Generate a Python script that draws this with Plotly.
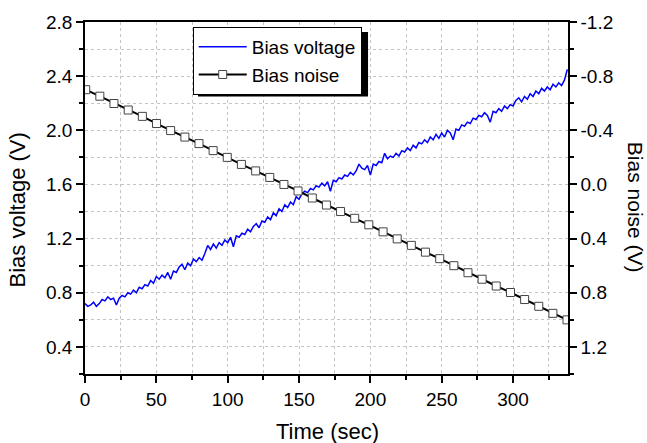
import plotly.graph_objects as go

time_v = [0, 2, 4, 6, 8, 10, 12, 14, 16, 18,
          20, 22, 24, 26, 28, 30, 32, 34, 36, 38,
          40, 42, 44, 46, 48, 50, 52, 54, 56, 58,
          60, 62, 64, 66, 68, 70, 72, 74, 76, 78,
          80, 82, 84, 86, 88, 90, 92, 94, 96, 98,
          100, 102, 104, 106, 108, 110, 112, 114, 116, 118,
          120, 122, 124, 126, 128, 130, 132, 134, 136, 138,
          140, 142, 144, 146, 148, 150, 152, 154, 156, 158,
          160, 162, 164, 166, 168, 170, 172, 174, 176, 178,
          180, 182, 184, 186, 188, 190, 192, 194, 196, 198,
          200, 202, 204, 206, 208, 210, 212, 214, 216, 218,
          220, 222, 224, 226, 228, 230, 232, 234, 236, 238,
          240, 242, 244, 246, 248, 250, 252, 254, 256, 258,
          260, 262, 264, 266, 268, 270, 272, 274, 276, 278,
          280, 282, 284, 286, 288, 290, 292, 294, 296, 298,
          300, 302, 304, 306, 308, 310, 312, 314, 316, 318,
          320, 322, 324, 326, 328, 330, 332, 334, 336, 338]
bias_voltage = [0.72, 0.70, 0.71, 0.73, 0.70, 0.72, 0.75, 0.74, 0.77, 0.75,
                0.76, 0.71, 0.76, 0.78, 0.77, 0.80, 0.79, 0.82, 0.80, 0.84,
                0.83, 0.86, 0.85, 0.89, 0.87, 0.92, 0.90, 0.93, 0.91, 0.95,
                0.90, 0.96, 0.95, 0.99, 1.01, 0.97, 1.02, 1.00, 1.05, 1.03,
                1.06, 1.04, 1.09, 1.15, 1.12, 1.16, 1.13, 1.17, 1.15, 1.19,
                1.17, 1.21, 1.14, 1.22, 1.21, 1.24, 1.23, 1.27, 1.25, 1.29,
                1.31, 1.28, 1.33, 1.32, 1.36, 1.34, 1.39, 1.37, 1.42, 1.40,
                1.45, 1.43, 1.47, 1.45, 1.51, 1.49, 1.53, 1.55, 1.54, 1.57,
                1.56, 1.59, 1.58, 1.61, 1.59, 1.62, 1.55, 1.63, 1.62, 1.65,
                1.64, 1.67, 1.66, 1.69, 1.67, 1.70, 1.75, 1.72, 1.71, 1.74,
                1.67, 1.75, 1.74, 1.77, 1.76, 1.83, 1.79, 1.81, 1.80, 1.83,
                1.81, 1.85, 1.84, 1.87, 1.85, 1.89, 1.87, 1.91, 1.90, 1.93,
                1.91, 1.95, 1.93, 1.97, 1.94, 1.98, 1.95, 2.00, 1.98, 1.93,
                2.01, 2.00, 2.04, 2.03, 2.06, 2.05, 2.09, 2.08, 2.11, 2.10,
                2.13, 2.11, 2.06, 2.14, 2.13, 2.16, 2.14, 2.18, 2.16, 2.19,
                2.18, 2.22, 2.24, 2.21, 2.25, 2.23, 2.27, 2.25, 2.29, 2.27,
                2.31, 2.29, 2.32, 2.30, 2.34, 2.32, 2.35, 2.33, 2.37, 2.45]

# Bias noise (right axis, reversed)
time_n = [0.5, 10.4, 20.3, 30.3, 40.2, 50.1, 60.0, 70.0, 79.9, 89.8,
          99.7, 109.6, 119.6, 129.5, 139.4, 149.3, 159.3, 169.2, 179.1, 189.0,
          198.9, 208.9, 218.8, 228.7, 238.6, 248.6, 258.5, 268.4, 278.3, 288.2,
          298.2, 308.1, 318.0, 327.9, 337.8]
bias_noise = [-0.70, -0.652, -0.598, -0.55, -0.503, -0.45, -0.398, -0.35, -0.302, -0.25,
              -0.20, -0.148, -0.10, -0.052, 0.0, 0.048, 0.10, 0.152, 0.20, 0.25,
              0.298, 0.35, 0.402, 0.45, 0.50, 0.548, 0.60, 0.652, 0.70, 0.75,
              0.798, 0.85, 0.90, 0.952, 1.00]

x_ticks = [0, 50, 100, 150, 200, 250, 300]
x_labels = ["0", "50", "100", "150", "200", "250", "300"]
yl_ticks = [0.4, 0.8, 1.2, 1.6, 2.0, 2.4, 2.8]
yl_labels = ["0.4", "0.8", "1.2", "1.6", "2.0", "2.4", "2.8"]
yr_ticks = [-1.2, -0.8, -0.4, 0.0, 0.4, 0.8, 1.2]
yr_labels = ["-1.2", "-0.8", "-0.4", "0.0", "0.4", "0.8", "1.2"]

FONT = "Liberation Sans, Arial, sans-serif"
GRID = "#c4c4c4"

fig = go.Figure()
fig.add_trace(go.Scatter(x=time_v, y=bias_voltage, mode="lines", name="Bias voltage",
                         line=dict(color="#0000ff", width=1.5)))
fig.add_trace(go.Scatter(x=time_n, y=bias_noise, mode="lines+markers", name="Bias noise",
                         yaxis="y2", line=dict(color="black", width=2),
                         marker=dict(symbol="square", size=8, color="white",
                                     line=dict(color="#444444", width=1))))

fig.update_layout(
    width=647, height=443,
    margin=dict(l=85, r=79, t=19, b=69),
    plot_bgcolor="white", paper_bgcolor="white",
    font=dict(family=FONT, size=19, color="black"),
    xaxis=dict(range=[0, 338.5], tickmode="array", tickvals=x_ticks, ticktext=x_labels,
               ticks="outside", ticklen=7, tickwidth=1.5, tickcolor="black",
               showline=True, linecolor="black", linewidth=1.5, mirror=True,
               showgrid=True, gridcolor=GRID, griddash="dot", gridwidth=1, zeroline=False,
               minor=dict(tick0=0, dtick=25, ticks="outside", ticklen=4, tickcolor="black",
                          showgrid=True, gridcolor=GRID, griddash="dot")),
    xaxis2=dict(range=[0, 338.5], overlaying="x", side="top", anchor="y",
                tick0=0, dtick=25, ticks="inside", ticklen=5, tickcolor="black",
                showticklabels=False, showgrid=False, showline=False, zeroline=False),
    yaxis=dict(range=[0.2, 2.8], tickmode="array", tickvals=yl_ticks, ticktext=yl_labels,
               ticks="outside", ticklen=7, tickwidth=1.5, tickcolor="black",
               showline=True, linecolor="black", linewidth=1.5,
               showgrid=True, gridcolor=GRID, griddash="dot", gridwidth=1, zeroline=False,
               minor=dict(tick0=0, dtick=0.2, ticks="outside", ticklen=4, tickcolor="black",
                          showgrid=True, gridcolor=GRID, griddash="dot")),
    yaxis2=dict(range=[1.4, -1.2], overlaying="y", side="right", anchor="x",
                tickmode="array", tickvals=yr_ticks, ticktext=yr_labels,
                ticks="outside", ticklen=7, tickwidth=1.5, tickcolor="black",
                showline=True, linecolor="black", linewidth=1.5,
                showgrid=False, zeroline=False,
                minor=dict(tick0=0, dtick=0.2, ticks="outside", ticklen=4, tickcolor="black")),
    showlegend=True,
    legend=dict(x=0.223, y=0.986, xanchor="left", yanchor="top",
                bgcolor="white", bordercolor="black", borderwidth=1,
                font=dict(family=FONT, size=19), itemwidth=48, tracegroupgap=0),
    # drop shadow behind the legend box
    shapes=[dict(type="rect", xref="paper", yref="paper",
                 x0=0.234, x1=0.586, y0=0.7887, y1=0.9718,
                 fillcolor="black", line=dict(width=0), layer="above")],
    annotations=[
        dict(text="Bias voltage (V)", xref="paper", yref="paper", x=-0.1398, y=0.466,
             textangle=-90, showarrow=False, xanchor="center", yanchor="middle",
             font=dict(family=FONT, size=22)),
        dict(text="Bias noise (V)", xref="paper", yref="paper", x=1.1387, y=0.472,
             textangle=90, showarrow=False, xanchor="center", yanchor="middle",
             font=dict(family=FONT, size=21)),
        dict(text="Time (sec)", xref="paper", yref="paper", x=0.502, y=-0.163,
             showarrow=False, xanchor="center", yanchor="middle",
             font=dict(family=FONT, size=22)),
    ],
)

fig.write_html("out.html", config={"displayModeBar": False},
               post_script="document.body.style.margin='0';")
